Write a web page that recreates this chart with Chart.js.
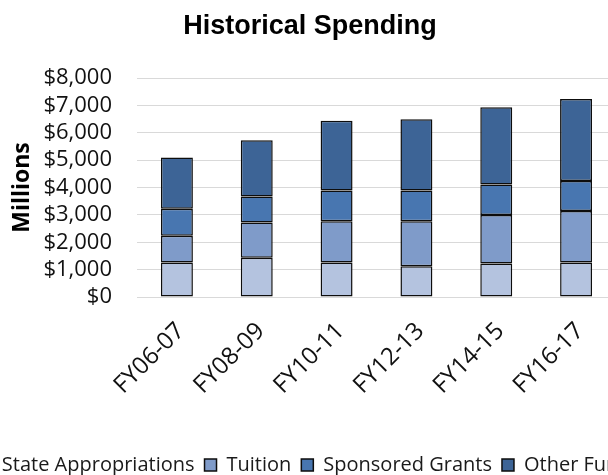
<!DOCTYPE html>
<html lang="en">
<head>
    <meta charset="UTF-8">
    <title>Historical Spending</title>
    <style>
        html, body { margin: 0; padding: 0; overflow: hidden; background: #fff; }
        body { width: 608px; height: 475px; position: relative; }
        #spending { position: absolute; left: -40px; top: 0; }
    </style>
    <script src="https://cdn.jsdelivr.net/npm/chart.js@4.4.1/dist/chart.umd.min.js"></script>
</head>
<body>

<canvas id="spending" width="700" height="485"></canvas>

<script>
    // Fiscal years and the four funding sources (millions of dollars)
    const years = ['FY06-07', 'FY08-09', 'FY10-11', 'FY12-13', 'FY14-15', 'FY16-17'];
    const stateAppropriations = [1260, 1430, 1260, 1120, 1220, 1260];
    const tuition = [980, 1290, 1510, 1650, 1780, 1880];
    const sponsoredGrants = [980, 950, 1120, 1120, 1110, 1100];
    const otherFunds = [1880, 2060, 2550, 2600, 2820, 2990];

    const seriesNames = ['State Appropriations', 'Tuition', 'Sponsored Grants', 'Other Funds'];
    const seriesColors = ['#B4C3DF', '#7F9BC9', '#4876B0', '#3D6496'];
    const seriesValues = [stateAppropriations, tuition, sponsoredGrants, otherFunds];

    function drawChart() {
        new Chart(document.getElementById('spending'), {
            type: 'bar',
            data: {
                labels: years,
                datasets: seriesValues.map((vals, i) => ({
                    label: seriesNames[i],
                    data: vals,
                    backgroundColor: seriesColors[i],
                    borderColor: '#0d0d0d',
                    borderWidth: 1.5,
                    borderSkipped: false,
                    categoryPercentage: 0.8,
                    barPercentage: 0.5
                }))
            },
            options: {
                responsive: false,
                animation: false,
                plugins: {
                    title: {
                        display: true,
                        text: 'Historical Spending',
                        color: '#000',
                        font: { family: "'Liberation Sans', Arial, sans-serif", size: 27, weight: 'bold' },
                        padding: { top: 10, bottom: 35.6 }
                    },
                    legend: {
                        position: 'bottom',
                        labels: {
                            color: '#1a1a1a',
                            font: { family: "'Open Sans', sans-serif", size: 20 },
                            boxWidth: 12,
                            boxHeight: 12,
                            padding: 10
                        }
                    },
                    tooltip: { enabled: false }
                },
                scales: {
                    x: {
                        stacked: true,
                        grid: { display: false },
                        border: { display: true, color: '#D9D9D9' },
                        ticks: {
                            color: '#111',
                            font: { family: "'Open Sans', sans-serif", size: 24 },
                            autoSkip: false,
                            minRotation: 45,
                            maxRotation: 45,
                            padding: 12,
                            labelOffset: 4
                        },
                        afterFit: s => { s.height = 148; }
                    },
                    y: {
                        stacked: true,
                        min: 0,
                        max: 8000,
                        grid: { color: '#D9D9D9', drawTicks: false },
                        border: { display: false },
                        ticks: {
                            stepSize: 1000,
                            autoSkip: false,
                            color: '#111',
                            font: { family: "'Open Sans', sans-serif", size: 22 },
                            padding: 25,
                            callback: v => '$' + v.toLocaleString('en-US')
                        },
                        title: {
                            display: true,
                            text: 'Millions',
                            color: '#000',
                            font: { family: "'Open Sans', sans-serif", size: 23, weight: 'bold' },
                            padding: { top: 49, bottom: 4 }
                        },
                        afterFit: s => { s.width = 177; }
                    },
                    // empty axis on the right, only keeps room so the plot runs past the crop
                    spacer: {
                        type: 'linear',
                        position: 'right',
                        display: true,
                        grid: { display: false },
                        border: { display: false },
                        ticks: { display: false },
                        afterFit: s => { s.width = 44; }
                    }
                }
            }
        });
    }

    Promise.all([
        document.fonts.load("22px 'Open Sans'"),
        document.fonts.load("bold 23px 'Open Sans'"),
        document.fonts.load("bold 27px 'Liberation Sans'")
    ]).then(drawChart, drawChart);
</script>

</body>
</html>
